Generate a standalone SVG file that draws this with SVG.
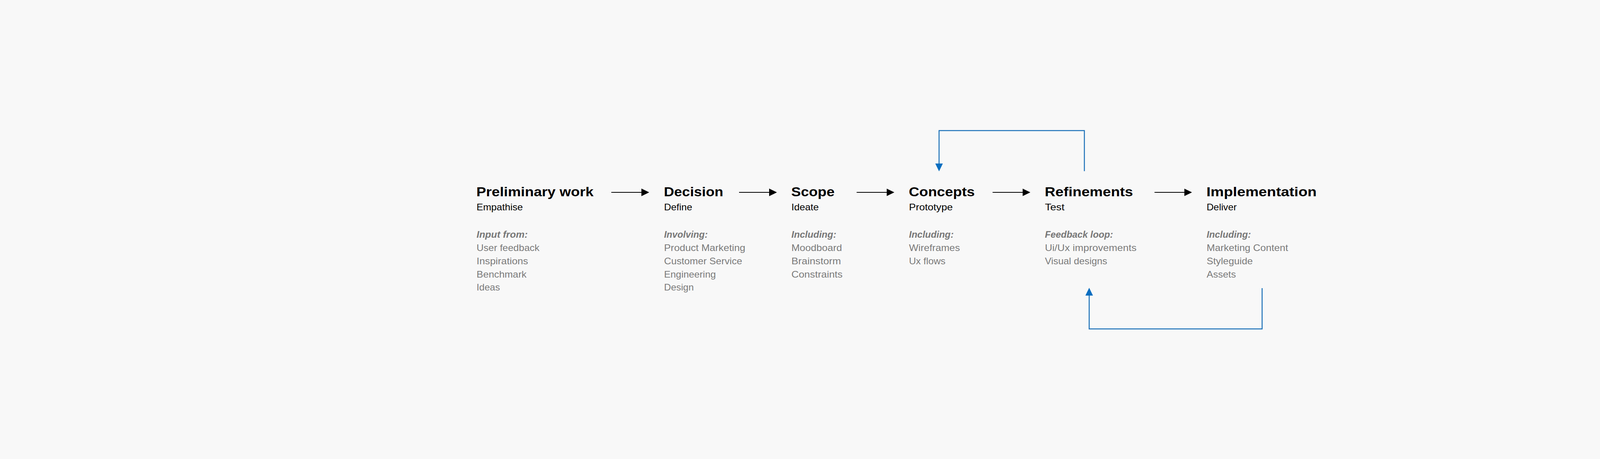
<svg xmlns="http://www.w3.org/2000/svg" width="4592" height="1174" viewBox="0 0 4592 1174">
<style>
.t{font-family:"Liberation Sans",Arial,sans-serif;font-size:34px;font-weight:bold;fill:#000}
.s{font-family:"Liberation Sans",Arial,sans-serif;font-size:24px;fill:#000}
.h{font-family:"Liberation Sans",Arial,sans-serif;font-size:24px;font-weight:bold;font-style:italic;fill:#777}
.i{font-family:"Liberation Sans",Arial,sans-serif;font-size:24px;fill:#7a7a7a}
.ka{fill:none;stroke:#000;stroke-width:2}
.ba{fill:none;stroke:#1a70b8;stroke-width:2.5;stroke-linejoin:miter}
</style>
<defs>
<marker id="ak" markerUnits="userSpaceOnUse" viewBox="0 0 20 20" markerWidth="20" markerHeight="20" refX="5" refY="10" orient="auto"><path d="M0,0.3 L20,10 L0,19.7 Z" fill="#000"/></marker>
<marker id="ab" markerUnits="userSpaceOnUse" viewBox="0 0 20 20" markerWidth="20" markerHeight="20" refX="5" refY="10" orient="auto"><path d="M0,0.3 L20,10 L0,19.7 Z" fill="#0b6ec0"/></marker>
</defs>
<rect x="0" y="0" width="4592" height="1174" fill="#f8f8f8"/>
<g id="connectors">
<path class="ka" d="M1565,492 H1647" marker-end="url(#ak)"/>
<path class="ka" d="M1892,492 H1974" marker-end="url(#ak)"/>
<path class="ka" d="M2193,492 H2274.5" marker-end="url(#ak)"/>
<path class="ka" d="M2541,492 H2622.7" marker-end="url(#ak)"/>
<path class="ka" d="M2955.6,492 H3036.5" marker-end="url(#ak)"/>
<path class="ba" d="M2776,437.7 V334 H2404 V423.3" marker-end="url(#ab)"/>
<path class="ba" d="M3231,737 V841.3 H2788.3 V751" marker-end="url(#ab)"/>
</g>
<g id="node-preliminary">
<text class="t" x="1219.5" y="501.7" textLength="300" lengthAdjust="spacingAndGlyphs">Preliminary work</text>
<text class="s" x="1220" y="538" textLength="118.5" lengthAdjust="spacingAndGlyphs">Empathise</text>
<text class="h" x="1220" y="607.7" textLength="131" lengthAdjust="spacingAndGlyphs">Input from:</text>
<text class="i" x="1220" y="641.7" textLength="161" lengthAdjust="spacingAndGlyphs">User feedback</text>
<text class="i" x="1220" y="675.6" textLength="132" lengthAdjust="spacingAndGlyphs">Inspirations</text>
<text class="i" x="1220" y="709.5" textLength="128" lengthAdjust="spacingAndGlyphs">Benchmark</text>
<text class="i" x="1220" y="743.4" textLength="60" lengthAdjust="spacingAndGlyphs">Ideas</text>
</g>
<g id="node-decision">
<text class="t" x="1699.5" y="501.7" textLength="152" lengthAdjust="spacingAndGlyphs">Decision</text>
<text class="s" x="1700" y="538" textLength="72" lengthAdjust="spacingAndGlyphs">Define</text>
<text class="h" x="1700" y="607.7" textLength="112" lengthAdjust="spacingAndGlyphs">Involving:</text>
<text class="i" x="1700" y="641.7" textLength="208" lengthAdjust="spacingAndGlyphs">Product Marketing</text>
<text class="i" x="1700" y="675.6" textLength="200" lengthAdjust="spacingAndGlyphs">Customer Service</text>
<text class="i" x="1700" y="709.5" textLength="132.5" lengthAdjust="spacingAndGlyphs">Engineering</text>
<text class="i" x="1700" y="743.4" textLength="76" lengthAdjust="spacingAndGlyphs">Design</text>
</g>
<g id="node-scope">
<text class="t" x="2025.5" y="501.7" textLength="111" lengthAdjust="spacingAndGlyphs">Scope</text>
<text class="s" x="2026" y="538" textLength="70" lengthAdjust="spacingAndGlyphs">Ideate</text>
<text class="h" x="2026" y="607.7" textLength="115" lengthAdjust="spacingAndGlyphs">Including:</text>
<text class="i" x="2026" y="641.7" textLength="129.5" lengthAdjust="spacingAndGlyphs">Moodboard</text>
<text class="i" x="2026" y="675.6" textLength="127" lengthAdjust="spacingAndGlyphs">Brainstorm</text>
<text class="i" x="2026" y="709.5" textLength="131" lengthAdjust="spacingAndGlyphs">Constraints</text>
</g>
<g id="node-concepts">
<text class="t" x="2326.5" y="501.7" textLength="169" lengthAdjust="spacingAndGlyphs">Concepts</text>
<text class="s" x="2327" y="538" textLength="112" lengthAdjust="spacingAndGlyphs">Prototype</text>
<text class="h" x="2327" y="607.7" textLength="114.5" lengthAdjust="spacingAndGlyphs">Including:</text>
<text class="i" x="2327" y="641.7" textLength="130.5" lengthAdjust="spacingAndGlyphs">Wireframes</text>
<text class="i" x="2327" y="675.6" textLength="93.5" lengthAdjust="spacingAndGlyphs">Ux flows</text>
</g>
<g id="node-refinements">
<text class="t" x="2674.5" y="501.7" textLength="226" lengthAdjust="spacingAndGlyphs">Refinements</text>
<text class="s" x="2675" y="538" textLength="50" lengthAdjust="spacingAndGlyphs">Test</text>
<text class="h" x="2675" y="607.7" textLength="174.5" lengthAdjust="spacingAndGlyphs">Feedback loop:</text>
<text class="i" x="2675" y="641.7" textLength="234.5" lengthAdjust="spacingAndGlyphs">Ui/Ux improvements</text>
<text class="i" x="2675" y="675.6" textLength="159.5" lengthAdjust="spacingAndGlyphs">Visual designs</text>
</g>
<g id="node-implementation">
<text class="t" x="3088.5" y="501.7" textLength="282" lengthAdjust="spacingAndGlyphs">Implementation</text>
<text class="s" x="3089" y="538" textLength="77" lengthAdjust="spacingAndGlyphs">Deliver</text>
<text class="h" x="3089" y="607.7" textLength="113.5" lengthAdjust="spacingAndGlyphs">Including:</text>
<text class="i" x="3089" y="641.7" textLength="208.5" lengthAdjust="spacingAndGlyphs">Marketing Content</text>
<text class="i" x="3089" y="675.6" textLength="118" lengthAdjust="spacingAndGlyphs">Styleguide</text>
<text class="i" x="3089" y="709.5" textLength="75" lengthAdjust="spacingAndGlyphs">Assets</text>
</g>
</svg>
